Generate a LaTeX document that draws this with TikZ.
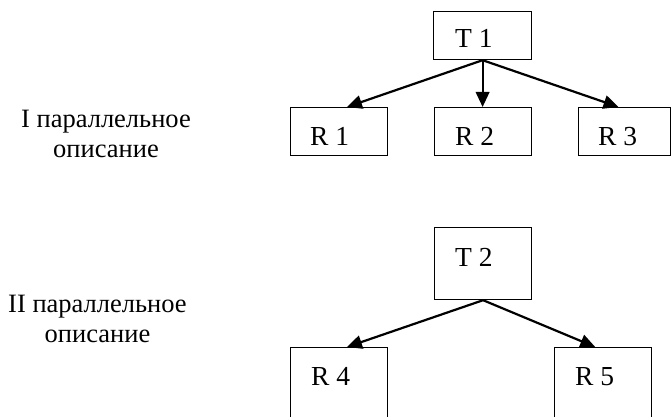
\documentclass[tikz,border=0pt]{standalone}
\usepackage{fontspec}
\setmainfont{Liberation Serif}
\usetikzlibrary{arrows.meta,calc}
\begin{document}
\begin{tikzpicture}[x=1pt,y=-1pt,
  box/.style={draw,line width=1.2pt,inner sep=0pt,anchor=north west},
  lbl/.style={inner sep=0pt,anchor=base west,font=\fontsize{27.5}{31}\selectfont},
  side/.style={inner sep=0pt,anchor=base,align=center,font=\fontsize{26.5}{30}\selectfont},
  arr/.style={line width=2.2pt,-{Triangle[length=15pt,width=13.5pt]}}]
\useasboundingbox (0,0) rectangle (671,417);
\clip (0,0) rectangle (671,417);
% boxes
\node[box,minimum width=98pt,minimum height=48pt] (t1) at (433,11) {};
\node[box,minimum width=97pt,minimum height=48pt] (r1) at (290,107) {};
\node[box,minimum width=97pt,minimum height=48pt] (r2) at (434,107) {};
\node[box,minimum width=92pt,minimum height=48pt] (r3) at (578,107) {};
\node[box,minimum width=97pt,minimum height=72pt] (t2) at (434,227) {};
\node[box,minimum width=97pt,minimum height=100pt] (r4) at (290,347) {};
\node[box,minimum width=97pt,minimum height=100pt] (r5) at (554,347) {};
% box texts
\node[lbl] (t1t) at (455,48) {T 1};
\node[lbl] (r1t) at (310,145) {R 1};
\node[lbl] (r2t) at (455,145) {R 2};
\node[lbl] (r3t) at (598,145) {R 3};
\node[lbl] (t2t) at (455,266) {T 2};
\node[lbl] (r4t) at (311,385) {R 4};
\node[lbl] (r5t) at (575,385) {R 5};
% side labels (anchor = baseline of last line)
\node[side] (l1) at (106,157) {I параллельное\\описание};
\node[side] (l2) at (97.5,342) {II параллельное\\описание};
% arrows
\draw[arr] (t1.south) -- ($(r1.north west)!0.58!(r1.north east)$);
\draw[arr] (t1.south) -- (t1.south |- r2.north);
\draw[arr] (t1.south) -- ($(r3.north west)!0.435!(r3.north east)$);
\draw[arr] (t2.south) -- ($(r4.north west)!0.58!(r4.north east)$);
\draw[arr] (t2.south) -- ($(r5.north west)!0.42!(r5.north east)$);
\end{tikzpicture}
\end{document}
